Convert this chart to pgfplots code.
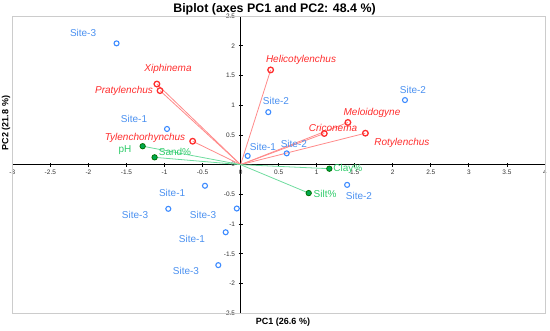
\documentclass[border=0pt]{standalone}
\usepackage{pgfplots}
\pgfplotsset{compat=1.18}
\usepackage{fontspec}
\setmainfont{Liberation Sans}
\definecolor{siteblue}{HTML}{3D8BFF}
\definecolor{labblue}{HTML}{4A90F0}
\definecolor{nemred}{HTML}{FF2D2D}
\definecolor{nemline}{HTML}{FF8A8A}
\definecolor{soilgreen}{HTML}{00A84F}
\definecolor{soillab}{HTML}{2FCB6A}
\definecolor{soilline}{HTML}{6EDC9E}
\begin{document}
\begin{tikzpicture}
\useasboundingbox (-12.3pt,-16.7pt) rectangle (537.7pt,313.3pt);
\begin{axis}[
 at={(0pt,0pt)}, anchor=south west,
 scale only axis, width=532.7pt, height=297.3pt,
 xmin=-3,xmax=4,ymin=-2.5,ymax=2.5,
 axis lines=middle, axis line style={black, line width=1.2pt, -},
 xtick={-3,-2.5,-2,-1.5,-1,-0.5,0,0.5,1,1.5,2,2.5,3,3.5,4},
 ytick={-2.5,-2,-1.5,-1,-0.5,0,0.5,1,1.5,2,2.5},
 hide obscured x ticks=false, hide obscured y ticks=false,
 tick style={black, line width=0.8pt}, major tick length=4pt, tick align=center,
 ticklabel style={font=\fontsize{6.5}{7}\selectfont, text=black!80},
 /pgf/number format/assume math mode=true,
 /pgf/number format/fixed,
 clip=false,
]
\draw[black!20, line width=0.8pt] (rel axis cs:0,0) rectangle (rel axis cs:1,1);
% nematode vectors
\addplot[draw=nemline, line width=0.8pt] coordinates {(0,0) (-1.10,1.356)};
\addplot[draw=nemline, line width=0.8pt] coordinates {(0,0) (-1.059,1.245)};
\addplot[draw=nemline, line width=0.8pt] coordinates {(0,0) (-0.63,0.394)};
\addplot[draw=nemline, line width=0.8pt] coordinates {(0,0) (0.395,1.593)};
\addplot[draw=nemline, line width=0.8pt] coordinates {(0,0) (1.41,0.71)};
\addplot[draw=nemline, line width=0.8pt] coordinates {(0,0) (1.10,0.524)};
\addplot[draw=nemline, line width=0.8pt] coordinates {(0,0) (1.64,0.529)};
% soil vectors
\addplot[draw=soilline, line width=0.8pt] coordinates {(0,0) (-1.287,0.31)};
\addplot[draw=soilline, line width=0.8pt] coordinates {(0,0) (-1.13,0.123)};
\addplot[draw=soilline, line width=0.8pt] coordinates {(0,0) (1.166,-0.068)};
\addplot[draw=soilline, line width=0.8pt] coordinates {(0,0) (0.895,-0.478)};
% sites
\addplot[only marks, mark=o, mark size=2.5pt, mark options={draw=siteblue, line width=1.1pt}] coordinates {
(-1.63,2.04) (-0.967,0.60) (0.093,0.147) (0.606,0.19) (0.364,0.883) (2.16,1.086)
(1.40,-0.34) (-0.468,-0.355) (-0.95,-0.743) (-0.05,-0.738) (-0.196,-1.137) (-0.293,-1.69)};
% nematodes
\addplot[only marks, mark=o, mark size=2.8pt, mark options={draw=nemred, line width=1.3pt}] coordinates {
(-1.10,1.356) (-1.059,1.245) (-0.63,0.394) (0.395,1.593) (1.41,0.71) (1.10,0.524) (1.64,0.529)};
% soil
\addplot[only marks, mark=*, mark size=2.7pt, mark options={draw=green!45!black, fill=soilgreen, line width=0.8pt}] coordinates {
(-1.287,0.31) (-1.13,0.123) (1.166,-0.068) (0.895,-0.478)};
% site labels
\begin{scope}[every node/.style={text=labblue, font=\fontsize{10}{12}\selectfont, inner sep=0pt}]
\node at (axis cs:-2.07,2.21) {Site-3};
\node at (axis cs:-1.40,0.777) {Site-1};
\node at (axis cs:0.294,0.304) {Site-1};
\node at (axis cs:0.465,1.064) {Site-2};
\node at (axis cs:2.265,1.25) {Site-2};
\node at (axis cs:0.70,0.355) {Site-2};
\node at (axis cs:1.555,-0.524) {Site-2};
\node at (axis cs:-0.90,-0.473) {Site-1};
\node at (axis cs:-1.387,-0.845) {Site-3};
\node at (axis cs:-0.494,-0.845) {Site-3};
\node at (axis cs:-0.639,-1.25) {Site-1};
\node at (axis cs:-0.718,-1.79) {Site-3};
\end{scope}
\begin{scope}[every node/.style={text=nemred, font=\fontsize{10}{12}\selectfont\itshape, inner sep=0pt}]
\node at (axis cs:-0.954,1.605) {Xiphinema};
\node at (axis cs:-1.532,1.233) {Pratylenchus};
\node at (axis cs:-1.256,0.456) {Tylenchorhynchus};
\node at (axis cs:0.794,1.757) {Helicotylenchus};
\node at (axis cs:1.727,0.878) {Meloidogyne};
\node at (axis cs:1.214,0.625) {Criconema};
\node at (axis cs:2.12,0.372) {Rotylenchus};
\end{scope}
\begin{scope}[every node/.style={text=soillab, font=\fontsize{10}{12}\selectfont, inner sep=0pt}]
\node at (axis cs:-1.52,0.253) {pH};
\node at (axis cs:-0.862,0.22) {Sand\%};
\node at (axis cs:1.41,-0.068) {Clay\%};
\node at (axis cs:1.11,-0.49) {Silt\%};
\end{scope}
\end{axis}
\node[font=\bfseries\fontsize{12.4}{14}\selectfont, inner sep=0pt] at (262.2pt,304pt) {Biplot (axes PC1 and PC2: 48.4 \%)};
\node[font=\bfseries\fontsize{9}{11}\selectfont, inner sep=0pt] at (270.7pt,-8.7pt) {PC1 (26.6 \%)};
\node[rotate=90, font=\bfseries\fontsize{9}{11}\selectfont, inner sep=0pt] at (-6.3pt,190.3pt) {PC2 (21.8 \%)};
\end{tikzpicture}
\end{document}
